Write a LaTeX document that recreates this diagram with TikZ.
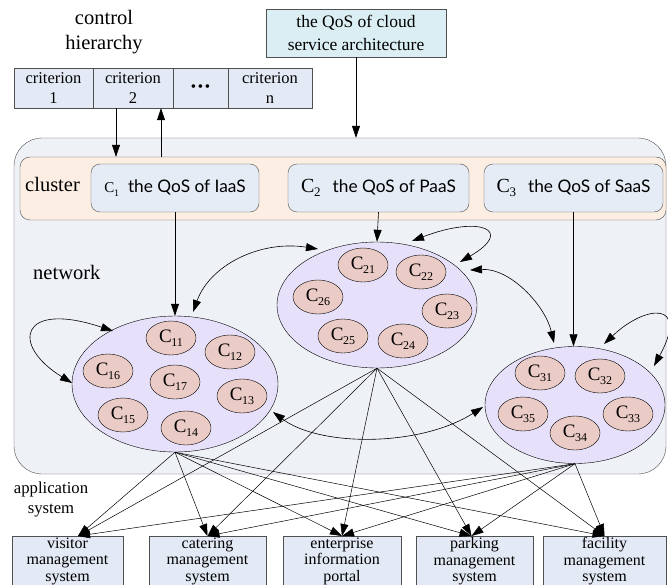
\documentclass[tikz,border=0pt]{standalone}
\usepackage{fontspec}
\setmainfont{Liberation Serif}
\newfontfamily\boxsans{Lato}
\usetikzlibrary{shapes.geometric,arrows.meta}
\definecolor{critfill}{RGB}{228,234,245}
\definecolor{cloudfill}{RGB}{218,238,243}
\definecolor{netfill}{RGB}{238,241,246}
\definecolor{clusfill}{RGB}{253,238,228}
\definecolor{cfill}{RGB}{229,236,246}
\definecolor{bigfill}{RGB}{230,224,250}
\definecolor{smallfill}{RGB}{235,203,197}
\definecolor{appfill}{RGB}{228,234,245}
\definecolor{edge}{RGB}{80,80,80}
\newcommand\Cx[2][19]{{\fontsize{#1}{#1}\selectfont C\kern-0.3pt\raisebox{-0.22em}{\fontsize{\numexpr #1*64/100\relax}{10}\selectfont #2}}}
\tikzset{
  lab/.style={font=\fontsize{20.5}{25}\selectfont, align=center, inner sep=0},
  crit/.style={draw=edge, fill=critfill, minimum height=40pt, inner sep=0, font=\fontsize{16.5}{19.5}\selectfont, align=center},
  cloudbox/.style={draw=edge, fill=cloudfill, minimum width=180pt, minimum height=48pt, inner sep=0, font=\fontsize{17.5}{22.5}\selectfont, align=center},
  netbg/.style={draw=edge, fill=netfill, rounded corners=28pt, minimum width=652pt, minimum height=336pt, inner sep=0},
  clus/.style={draw=edge, fill=clusfill, rounded corners=10pt, minimum width=646pt, minimum height=63pt, inner sep=0},
  cbox/.style={draw=edge, fill=cfill, rounded corners=9pt, minimum height=48pt, inner sep=0},
  big/.style={ellipse, draw=black, fill=bigfill, inner sep=0},
  small/.style={ellipse, draw=black, fill=smallfill, minimum width=50pt, minimum height=34pt, inner sep=0},
  app/.style={draw=edge, fill=appfill, inner sep=0, minimum height=50pt, align=center, font=\fontsize{16}{16.5}\selectfont, anchor=north},
  arr/.style={-{Triangle[length=12pt,width=8pt]}, black, line width=0.6pt},
  darr/.style={{Triangle[length=12pt,width=8pt]}-{Triangle[length=12pt,width=8pt]}, black, line width=0.6pt},
}
\begin{document}
\begin{tikzpicture}[x=1pt,y=-1pt]
\useasboundingbox (0,0) rectangle (668,585);
% titles
\node[lab] (ctrl) at (104,32) {control\\hierarchy};
% criterion row
\node[crit, minimum width=79pt] (cr1) at (53.5,88) {criterion\\1};
\node[crit, minimum width=80pt] (cr2) at (133,88) {criterion\\2};
\node[crit, minimum width=55pt] (crd) at (200.5,88) {\raisebox{-6pt}{\fontsize{15}{15}\selectfont •\kern1.8pt•\kern1.8pt•}};
\node[crit, minimum width=84pt] (crn) at (270,88) {criterion\\n};
% cloud
\node[cloudbox] (cloud) at (356,33) {the QoS of cloud\\service architecture};
% network background
\node[netbg] (net) at (340,306) {};
\node[clus] (clus) at (343,188.5) {};
\node[lab, anchor=west] (cluslab) at (25,184) {cluster};
\node[lab, anchor=west] (netlab) at (33,272) {network};
% C boxes
\node[cbox, minimum width=168pt] (c1) at (175,188) {\Cx[15]{1}\hspace{9pt}{\boxsans\fontsize{17.3}{17.3}\selectfont the QoS of IaaS}};
\node[cbox, minimum width=181pt] (c2) at (378.5,188) {\Cx[20]{2}\hspace{12pt}{\boxsans\fontsize{17.3}{17.3}\selectfont the QoS of PaaS}};
\node[cbox, minimum width=179pt] (c3) at (573.5,188) {\Cx[20]{3}\hspace{12pt}{\boxsans\fontsize{17.3}{17.3}\selectfont the QoS of SaaS}};
% arrows top
\draw[arr] (cloud.south) -- (cloud.south |- net.north);
\draw[arr] ([xshift=-17pt]cr2.south) -- ([xshift=-17pt]cr2.south |- clus.north);
\draw[arr] ([xshift=28pt]cr2.south |- clus.north) -- ([xshift=28pt]cr2.south);
% big ellipses
\node[big, minimum width=206pt, minimum height=136pt] (E1) at (175,384) {};
\node[big, minimum width=200pt, minimum height=126pt] (E2) at (377,305) {};
\node[big, minimum width=180pt, minimum height=117pt] (E3) at (575,405) {};
% small ellipses
\node[small] (c11) at (171,338) {\Cx{11}};
\node[small] (c12) at (230,352) {\Cx{12}};
\node[small] (c16) at (108,371) {\Cx{16}};
\node[small] (c17) at (175,382) {\Cx{17}};
\node[small] (c13) at (242,396) {\Cx{13}};
\node[small] (c15) at (123,415) {\Cx{15}};
\node[small] (c14) at (186,428) {\Cx{14}};
\node[small] (c21) at (363,265) {\Cx{21}};
\node[small] (c22) at (421,272) {\Cx{22}};
\node[small] (c26) at (318,297) {\Cx{26}};
\node[small] (c23) at (447,311) {\Cx{23}};
\node[small] (c25) at (343,336) {\Cx{25}};
\node[small] (c24) at (403,341) {\Cx{24}};
\node[small] (c31) at (540,373) {\Cx{31}};
\node[small] (c32) at (600,376) {\Cx{32}};
\node[small] (c35) at (523,414) {\Cx{35}};
\node[small] (c33) at (628,414) {\Cx{33}};
\node[small] (c34) at (575,433) {\Cx{34}};
% cluster to ellipse arrows
\draw[arr] (c1.south) -- (c1.south |- E1.north);
\draw[arr] (c2.south) -- (E2.north);
\draw[arr] (c3.south) -- (c3.south |- E3.north);
% loops and links
\coordinate (l1a) at (113,331); \coordinate (l1b) at (72,383);
\draw[darr] (l1a) .. controls (20,300) and (10,345) .. (l1b);
\coordinate (l2a) at (412,241); \coordinate (l2b) at (460,262);
\draw[darr] (l2a) .. controls (480,215) and (515,230) .. (l2b);
\coordinate (l3a) at (604,344); \coordinate (l3b) at (654,366);
\draw[darr] (l3a) .. controls (645,305) and (690,300) .. (l3b);
\coordinate (e12a) at (193,312); \coordinate (e12b) at (318,249);
\draw[darr] (e12a) .. controls (210,265) and (260,240) .. (e12b);
\coordinate (e23a) at (470,270); \coordinate (e23b) at (554,343);
\draw[darr] (e23a) .. controls (510,268) and (545,305) .. (e23b);
\coordinate (e13a) at (273,412); \coordinate (e13b) at (483,407);
\draw[darr] (e13a) .. controls (320,447) and (420,447) .. (e13b);
% application label
\node[lab, font=\fontsize{16.7}{20}\selectfont] (applab) at (51,500) {application\\system};
% application boxes
\node[app, minimum width=111pt] (a1) at (67.5,536) {visitor\\management\\system};
\node[app, minimum width=117pt] (a2) at (207.5,536) {catering\\management\\system};
\node[app, minimum width=118pt] (a3) at (342,536) {enterprise\\information\\portal};
\node[app, minimum width=117pt] (a4) at (474.5,536) {parking\\management\\system};
\node[app, minimum width=123pt] (a5) at (604.5,536) {facility\\management\\system};
\coordinate (t1) at ([xshift=10.5pt]a1.north);
\coordinate (t2) at (a2.north);
\coordinate (t3) at (a3.north);
\coordinate (t4) at ([xshift=-3pt]a4.north);
\coordinate (t5) at (a5.north);
\foreach \s in {E1,E2,E3}{
  \foreach \t in {t1,t2,t3,t4,t5}{
    \draw[arr, line width=0.5pt] (\s.south) -- (\t);
  }
}
\end{tikzpicture}
\end{document}
